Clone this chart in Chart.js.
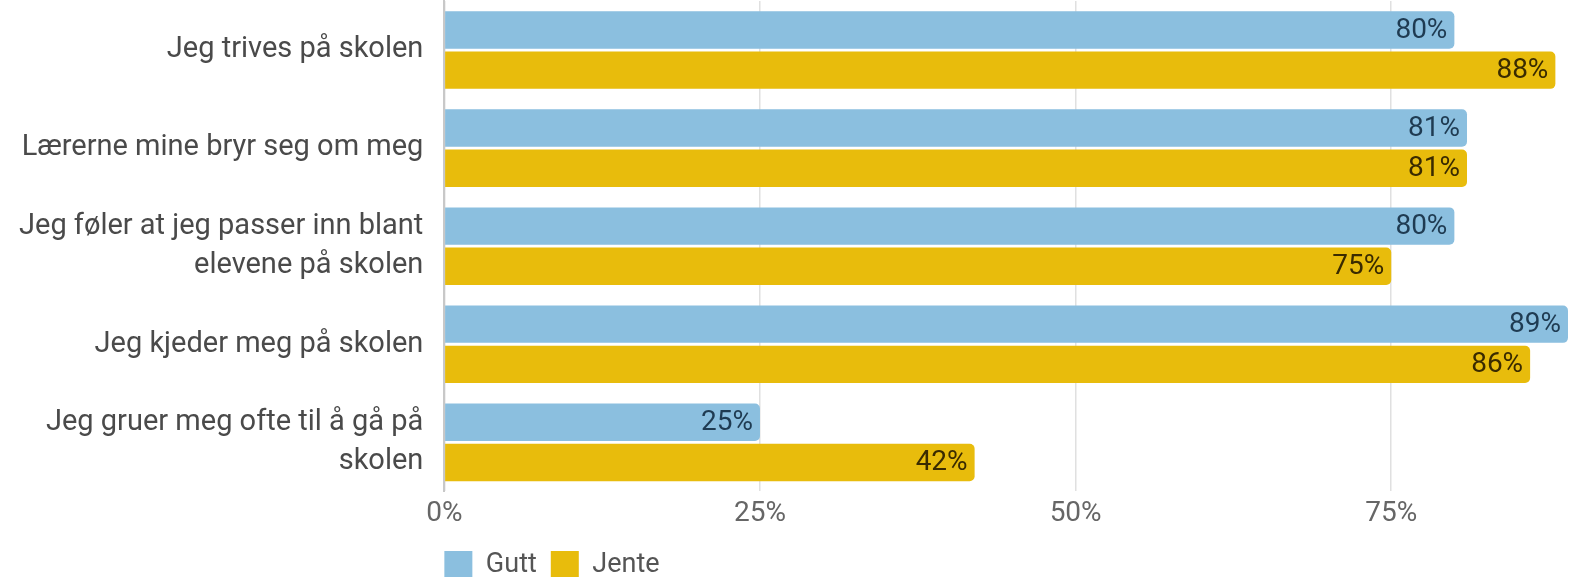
<!DOCTYPE html>
<html>
<head>
<meta charset="utf-8">
<script src="https://cdn.jsdelivr.net/npm/chart.js@4"></script>
<style>
  html, body { margin: 0; padding: 0; background: #fff; }
  #wrap { width: 1572px; height: 577px; }
</style>
</head>
<body>
<div id="wrap"><canvas id="myChart"></canvas></div>
<script>
const kategorier = [
  "Jeg trives på skolen",
  "Lærerne mine bryr seg om meg",
  ["Jeg føler at jeg passer inn blant", "elevene på skolen"],
  "Jeg kjeder meg på skolen",
  ["Jeg gruer meg ofte til å gå på", "skolen"],
];
const gutt = [80, 81, 80, 89, 25];
const jente = [88, 81, 75, 86, 42];
const ticksX = [0, 25, 50, 75];

const fargeGutt = "#8bbfdf";
const fargeJente = "#e8bc0c";

// skriver verdien inne i enden av hver stolpe
const verdiEtiketter = {
  id: "verdiEtiketter",
  afterDatasetsDraw(chart) {
    const ctx = chart.ctx;
    ctx.save();
    ctx.font = "28px Roboto";
    ctx.textAlign = "right";
    ctx.textBaseline = "middle";
    chart.data.datasets.forEach((ds, i) => {
      const meta = chart.getDatasetMeta(i);
      meta.data.forEach((bar, j) => {
        ctx.fillStyle = i === 0 ? "#1f3b52" : "#3a2b00";
        ctx.fillText(ds.data[j] + "%", bar.x - 7, bar.y + 1);
      });
    });
    ctx.restore();
  },
};

// legg legenden i flukt med plottets venstre kant
const legendeVenstre = {
  id: "legendeVenstre",
  afterLayout(chart) {
    const pad = chart.options.plugins.legend.labels.padding;
    chart.legend.left = chart.chartArea.left - pad;
  },
};

const ctx = document.getElementById("myChart");

const cfg = {
  type: "bar",
  data: {
    labels: kategorier,
    datasets: [
      {
        label: "Gutt",
        data: gutt,
        backgroundColor: fargeGutt,
        borderRadius: 5,
        borderSkipped: "start",
        categoryPercentage: 0.82,
        barPercentage: 0.93,
      },
      {
        label: "Jente",
        data: jente,
        backgroundColor: fargeJente,
        borderRadius: 5,
        borderSkipped: "start",
        categoryPercentage: 0.82,
        barPercentage: 0.93,
      },
    ],
  },
  options: {
    indexAxis: "y",
    responsive: true,
    maintainAspectRatio: false,
    animation: false,
    layout: {
      padding: { top: 1, right: 4, left: -2, bottom: -12 },
    },
    plugins: {
      legend: {
        position: "bottom",
        align: "start",
        labels: {
          boxWidth: 28,
          boxHeight: 28,
          padding: 14,
          color: "#555",
          font: { family: "Roboto", size: 27, lineHeight: 1 },
        },
      },
      tooltip: { enabled: false },
    },
    scales: {
      x: {
        min: 0,
        max: 89,
        afterBuildTicks: (axis) => {
          axis.ticks = ticksX.map((v) => ({ value: v }));
        },
        ticks: {
          color: "#666",
          padding: 6,
          font: { family: "Roboto", size: 28 },
          callback: (v) => v + "%",
        },
        grid: {
          color: "#e0e0e0",
          lineWidth: 1.5,
          drawTicks: false,
        },
        border: { display: false },
      },
      y: {
        afterFit: (scale) => {
          scale.paddingTop = 0;
          scale.paddingBottom = 0;
        },
        ticks: {
          color: "#4a4a4a",
          padding: 21,
          font: { family: "Roboto", size: 29, lineHeight: 1.36 },
        },
        grid: { display: false, drawTicks: false },
        border: { display: true, color: "#c8c8c8", width: 2 },
      },
    },
  },
  plugins: [verdiEtiketter, legendeVenstre],
};

const myChart = new Chart(ctx, cfg);
</script>
</body>
</html>
